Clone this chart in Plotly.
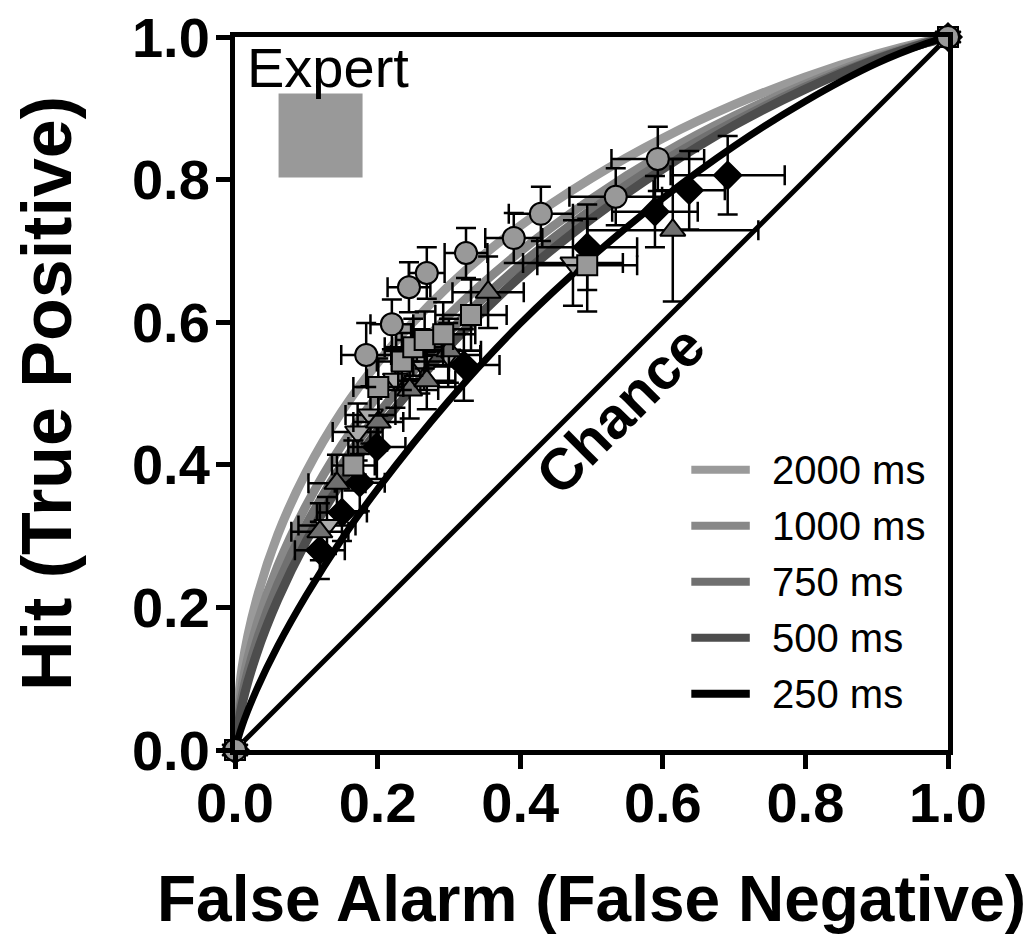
import plotly.graph_objects as go

# ---------------- data ----------------
durations = ["2000 ms", "1000 ms", "750 ms", "500 ms", "250 ms"]
curve_colors = ["#9a9a9a", "#888888", "#707070", "#4d4d4d", "#000000"]

# fitted ROC curves
curve_x = [0, 0.01, 0.03, 0.06, 0.1, 0.15, 0.2, 0.3, 0.4, 0.5, 0.6, 0.7, 0.8, 0.9, 0.97, 1]
curve_2000 = [0, 0.116, 0.210, 0.302, 0.390, 0.475, 0.543, 0.651, 0.735, 0.802, 0.858, 0.905, 0.944, 0.976, 0.994, 1]
curve_1000 = [0, 0.090, 0.173, 0.258, 0.343, 0.428, 0.497, 0.610, 0.699, 0.773, 0.836, 0.889, 0.934, 0.972, 0.993, 1]
curve_750 = [0, 0.075, 0.151, 0.232, 0.316, 0.400, 0.470, 0.586, 0.680, 0.758, 0.825, 0.881, 0.930, 0.970, 0.992, 1]
curve_500 = [0, 0.064, 0.134, 0.211, 0.293, 0.377, 0.448, 0.566, 0.664, 0.745, 0.815, 0.876, 0.927, 0.969, 0.992, 1]
curve_250 = [0, 0.034, 0.084, 0.146, 0.217, 0.296, 0.366, 0.490, 0.598, 0.691, 0.774, 0.847, 0.910, 0.963, 0.991, 1]

# observed points (False alarm, Hit) with SEM error bars
fa_2000 = [0, 0.184, 0.220, 0.244, 0.269, 0.324, 0.391, 0.429, 0.534, 0.593, 1]
hit_2000 = [0, 0.554, 0.597, 0.649, 0.669, 0.697, 0.718, 0.752, 0.776, 0.829, 1]
fa_err_2000 = [0, 0.035, 0.03, 0.03, 0.025, 0.03, 0.04, 0.045, 0.065, 0.065, 0]
hit_err_2000 = [0, 0.045, 0.035, 0.035, 0.036, 0.035, 0.035, 0.038, 0.04, 0.045, 0]

fa_1000 = [0, 0.166, 0.201, 0.234, 0.250, 0.266, 0.292, 0.331, 0.494, 1]
hit_1000 = [0, 0.399, 0.509, 0.545, 0.565, 0.575, 0.583, 0.610, 0.680, 1]
fa_err_1000 = [0, 0.03, 0.035, 0.035, 0.04, 0.04, 0.045, 0.05, 0.07, 0]
hit_err_1000 = [0, 0.035, 0.04, 0.04, 0.04, 0.04, 0.045, 0.05, 0.065, 0]

fa_750 = [0, 0.119, 0.143, 0.201, 0.245, 0.269, 0.300, 0.355, 0.614, 1]
hit_750 = [0, 0.306, 0.374, 0.460, 0.505, 0.518, 0.560, 0.642, 0.729, 1]
fa_err_750 = [0, 0.04, 0.04, 0.035, 0.04, 0.04, 0.045, 0.05, 0.12, 0]
hit_err_750 = [0, 0.04, 0.04, 0.04, 0.04, 0.04, 0.045, 0.05, 0.1, 0]

fa_500 = [0, 0.129, 0.172, 0.190, 0.225, 0.260, 0.299, 0.474, 1]
hit_500 = [0, 0.315, 0.446, 0.470, 0.520, 0.545, 0.554, 0.683, 1]
fa_err_500 = [0, 0.04, 0.035, 0.035, 0.04, 0.04, 0.045, 0.07, 0]
hit_err_500 = [0, 0.04, 0.04, 0.04, 0.04, 0.045, 0.045, 0.06, 0]

fa_250 = [0, 0.119, 0.150, 0.175, 0.199, 0.321, 0.494, 0.589, 0.637, 0.691, 1]
hit_250 = [0, 0.280, 0.333, 0.375, 0.425, 0.540, 0.705, 0.755, 0.785, 0.806, 1]
fa_err_250 = [0, 0.035, 0.035, 0.035, 0.04, 0.05, 0.07, 0.06, 0.05, 0.08, 0]
hit_err_250 = [0, 0.04, 0.04, 0.04, 0.045, 0.05, 0.06, 0.05, 0.055, 0.055, 0]

chance_x = [0, 1]
chance_y = [0, 1]

expert_fa = [0.12]
expert_hit = [0.862]

tick_vals = [0, 0.2, 0.4, 0.6, 0.8, 1.0]
tick_text = ["0.0", "0.2", "0.4", "0.6", "0.8", "1.0"]

# ---------------- figure ----------------
FONT = "Liberation Sans, Arial, Helvetica, sans-serif"
fig = go.Figure()

# chance diagonal
fig.add_trace(go.Scatter(x=chance_x, y=chance_y, mode="lines",
                         line=dict(color="black", width=5), showlegend=False, hoverinfo="skip"))

curves = [curve_2000, curve_1000, curve_750, curve_500, curve_250]
widths = [9, 9, 9, 9, 7]
for name, ys, col, w in zip(durations, curves, curve_colors, widths):
    fig.add_trace(go.Scatter(x=curve_x, y=ys, mode="lines", name=name,
                             line=dict(color=col, width=w, shape="spline", smoothing=1.0),
                             showlegend=False))

# expert marker
fig.add_trace(go.Scatter(x=expert_fa, y=expert_hit, mode="markers",
                         marker=dict(symbol="square", size=84, color="#999999", line=dict(width=0)),
                         showlegend=False))

series = [
    (fa_250, hit_250, fa_err_250, hit_err_250, "diamond", "#000000", 21),
    (fa_500, hit_500, fa_err_500, hit_err_500, "triangle-down", "#aaaaaa", 22),
    (fa_750, hit_750, fa_err_750, hit_err_750, "triangle-up", "#707070", 22),
    (fa_1000, hit_1000, fa_err_1000, hit_err_1000, "square", "#999999", 20),
    (fa_2000, hit_2000, fa_err_2000, hit_err_2000, "circle", "#999999", 22),
]
for fx, hy, fe, he, sym, col, sz in series:
    fig.add_trace(go.Scatter(
        x=fx, y=hy, mode="markers", cliponaxis=False,
        marker=dict(symbol=sym, size=sz, color=col, line=dict(color="black", width=2)),
        error_x=dict(type="data", array=fe, color="black", thickness=2.5, width=10),
        error_y=dict(type="data", array=he, color="black", thickness=2.5, width=10),
        showlegend=False))

# manual legend
leg_top = 0.393
leg_step = 0.0785
for i, (name, col) in enumerate(zip(durations, curve_colors)):
    yy = leg_top - i * leg_step
    fig.add_shape(type="line", xref="paper", yref="paper",
                  x0=0.640, x1=0.722, y0=yy, y1=yy,
                  line=dict(color=col, width=8))
    fig.add_annotation(xref="paper", yref="paper", x=0.750, y=yy, text=name,
                       showarrow=False, xanchor="left", yanchor="middle",
                       font=dict(family=FONT, size=40, color="black"))

fig.add_annotation(x=0.13, y=0.957, text="Expert", showarrow=False,
                   xanchor="center", yanchor="middle",
                   font=dict(family=FONT, size=56, color="black"))
fig.add_annotation(x=0.540, y=0.478, text="<b>Chance</b>", showarrow=False,
                   textangle=-45, xanchor="center", yanchor="middle",
                   font=dict(family=FONT, size=58, color="black"))

axis_common = dict(range=[0, 1], tickvals=tick_vals, ticktext=tick_text,
                   showline=True, linecolor="black", linewidth=5, mirror=True,
                   ticks="outside", ticklen=14, tickwidth=5, tickcolor="black",
                   showgrid=False, zeroline=False, ticklabeloverflow="allow",
                   tickfont=dict(family=FONT, size=56, color="black", weight="bold"))

fig.update_xaxes(**axis_common, ticklabelstandoff=-14,
                 title=dict(text="<b>False Alarm (False Negative)</b>", standoff=44,
                            font=dict(family=FONT, size=64, color="black")))
fig.update_yaxes(**axis_common, ticklabelstandoff=-5,
                 title=dict(text="<b>Hit (True Positive)</b>", standoff=52,
                            font=dict(family=FONT, size=70, color="black")))

# page has an 8px body margin, so shift everything up/left by 8px
fig.update_layout(width=1026, height=935,
                  margin=dict(l=227, r=86, t=29, b=193, autoexpand=False),
                  plot_bgcolor="white", paper_bgcolor="white",
                  showlegend=False)

fig.write_html("out.html")
